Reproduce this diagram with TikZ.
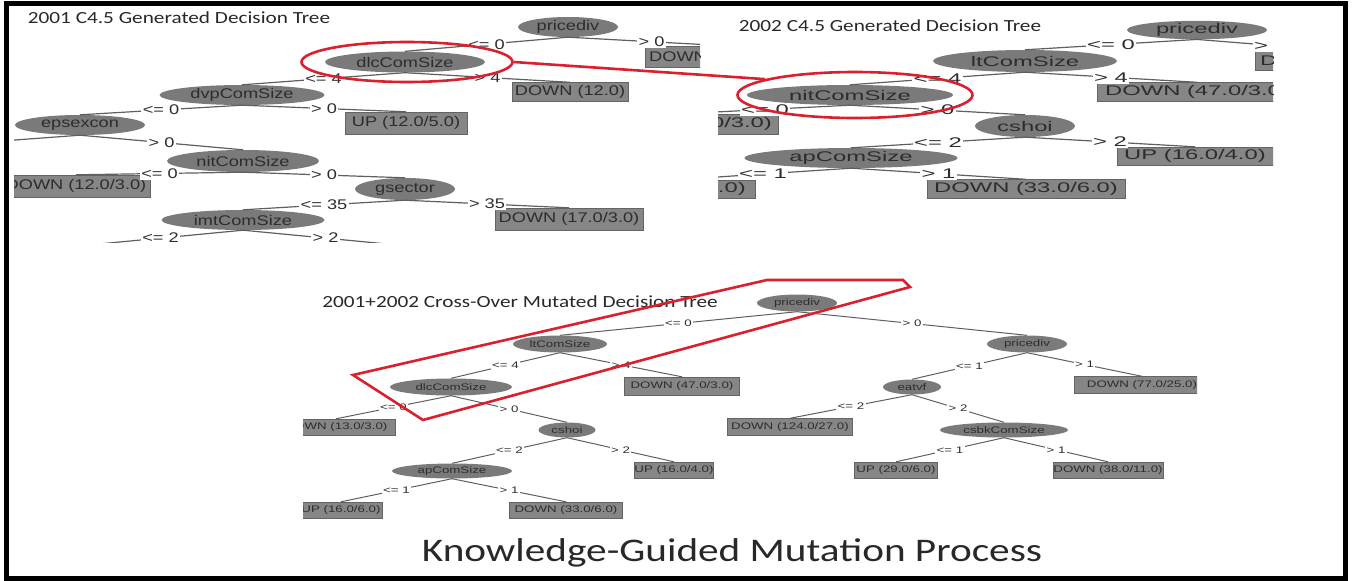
\documentclass[tikz,border=0pt]{standalone}
\usepackage{fontspec}
\usepackage{tikz}
\usetikzlibrary{shapes.geometric}
\newfontfamily\capfam[FakeStretch=1.25]{Carlito}
\newfontfamily\wekaAfam[FakeStretch=1.3]{Liberation Sans}
\newfontfamily\wekaBfam[FakeStretch=1.7]{Liberation Sans}
\newfontfamily\wekaCfam[FakeStretch=1.4]{Liberation Sans}
\newcommand\treeAfont{\wekaAfam\fontsize{14}{14}\selectfont}
\newcommand\treeBfont{\wekaBfam\fontsize{14}{14}\selectfont}
\newcommand\treeCfont{\wekaCfam\fontsize{9.5}{9.5}\selectfont}
\newcommand\titlefont{\capfam\fontsize{17}{17}\selectfont}
\newcommand\bigcapfont{\capfam\fontsize{33}{33}\selectfont}
\definecolor{ovalgray}{RGB}{122,122,122}
\definecolor{leafgray}{RGB}{134,134,134}
\definecolor{leafedge}{RGB}{100,100,100}
\definecolor{inkgray}{RGB}{45,45,45}
\definecolor{wiregray}{RGB}{95,95,95}
\definecolor{headgray}{RGB}{40,40,40}
\definecolor{markred}{RGB}{218,32,45}

\begin{document}
\begin{tikzpicture}[
  x=1pt, y=-1pt,
  oval/.style={ellipse, fill=ovalgray, text=inkgray, inner sep=0pt},
  leaf/.style={rectangle, fill=leafgray, draw=leafedge, text=inkgray, inner sep=0pt},
  cond/.style={fill=white, text=inkgray, inner sep=1.5pt},
  branch/.style={draw=wiregray, line width=1.2pt},
  redmark/.style={draw=markred, line width=2.6pt},
  heading/.style={text=headgray, font=\titlefont, inner sep=0pt}
]
  \useasboundingbox (0,0) rectangle (1353,581);

  \begin{scope}[every node/.append style={font=\treeAfont}]
    \clip (14,6) rectangle (700,242);
    \node[heading] (t1title) at (179,18) {2001 C4.5 Generated Decision Tree};
    \node[oval, minimum width=100, minimum height=20] (t1root) at (568,27) {pricediv};
    \node[oval, minimum width=160, minimum height=21] (t1dlc) at (405,62) {dlcComSize};
    \node[leaf, anchor=west, minimum height=21, text width=172, align=left, inner xsep=4pt] (t1dow) at (645,57) {DOWN};
    \node[leaf, minimum width=116, minimum height=19] (t1down) at (570,92) {DOWN (12.0)};
    \node[oval, minimum width=165, minimum height=20] (t1dvp) at (242,95) {dvpComSize};
    \node[leaf, minimum width=122, minimum height=22] (t1up) at (406,123) {UP (12.0/5.0)};
    \node[oval, minimum width=130, minimum height=20] (t1eps) at (80,125) {epsexcon};
    \coordinate (t1epsL) at (-120,150);
    \node[oval, minimum width=152, minimum height=22] (t1nit) at (243,161) {nitComSize};
    \node[leaf, minimum width=149, minimum height=22] (t1downB) at (76,186) {DOWN (12.0/3.0)};
    \node[oval, minimum width=100, minimum height=22] (t1gsec) at (405,189) {gsector};
    \node[leaf, minimum width=148, minimum height=22] (t1downC) at (569,219) {DOWN (17.0/3.0)};
    \node[oval, minimum width=163, minimum height=20] (t1imt) at (243,220) {imtComSize};
    \coordinate (t1imtL) at (78,246);
    \coordinate (t1imtR) at (408,246);

    \draw[branch] (t1root.south) -- node[cond]{<= 0} (t1dlc.north);
    \draw[branch] (t1root.south) -- node[cond]{> 0} (t1dow.north);
    \draw[branch] (t1dlc.south) -- node[cond]{<= 4} (t1dvp.north);
    \draw[branch] (t1dlc.south) -- node[cond]{> 4} (t1down.north);
    \draw[branch] (t1dvp.south) -- node[cond]{<= 0} (t1eps.north);
    \draw[branch] (t1dvp.south) -- node[cond]{> 0} (t1up.north);
    \draw[branch] (t1eps.south) -- (t1epsL);
    \draw[branch] (t1eps.south) -- node[cond]{> 0} (t1nit.north);
    \draw[branch] (t1nit.south) -- node[cond]{<= 0} (t1downB.north);
    \draw[branch] (t1nit.south) -- node[cond]{> 0} (t1gsec.north);
    \draw[branch] (t1gsec.south) -- node[cond]{<= 35} (t1imt.north);
    \draw[branch] (t1gsec.south) -- node[cond]{> 35} (t1downC.north);
    \draw[branch] (t1imt.south) -- node[cond]{<= 2} (t1imtL);
    \draw[branch] (t1imt.south) -- node[cond]{> 2} (t1imtR);
  \end{scope}

  \begin{scope}[every node/.append style={font=\treeBfont}]
    \clip (718,6) rectangle (1273,200);
    \node[heading] (t2title) at (890,26) {2002 C4.5 Generated Decision Tree};
    \node[oval, minimum width=140, minimum height=18] (t2root) at (1197,30) {pricediv};
    \node[leaf, anchor=west, minimum height=19, text width=170, align=left, inner xsep=5pt] (t2dow) at (1255,61) {DOWN};
    \node[oval, minimum width=184, minimum height=22] (t2lt) at (1025,61) {ltComSize};
    \node[leaf, minimum width=200, minimum height=19] (t2down) at (1197,92) {DOWN (47.0/3.0)};
    \node[oval, minimum width=206, minimum height=20] (t2nit) at (850,95) {nitComSize};
    \node[leaf, minimum width=196, minimum height=20] (t2downB) at (680,124) {DOWN (12.0/3.0)};
    \node[oval, minimum width=100, minimum height=22] (t2csh) at (1025,126) {cshoi};
    \node[leaf, minimum width=156, minimum height=18] (t2up) at (1195,156) {UP (16.0/4.0)};
    \node[oval, minimum width=213, minimum height=20] (t2ap) at (851,158) {apComSize};
    \node[leaf, minimum width=160, minimum height=18] (t2upB) at (675,189) {UP (16.0/6.0)};
    \node[leaf, minimum width=198, minimum height=19] (t2downC) at (1026,189) {DOWN (33.0/6.0)};

    \draw[branch] (t2root.south) -- node[cond]{<= 0} (t2lt.north);
    \draw[branch] (t2root.south) -- node[cond]{> 0} (t2dow.north);
    \draw[branch] (t2lt.south) -- node[cond]{<= 4} (t2nit.north);
    \draw[branch] (t2lt.south) -- node[cond]{> 4} (t2down.north);
    \draw[branch] (t2nit.south) -- node[cond]{<= 0} (t2downB.north);
    \draw[branch] (t2nit.south) -- node[cond]{> 0} (t2csh.north);
    \draw[branch] (t2csh.south) -- node[cond]{<= 2} (t2ap.north);
    \draw[branch] (t2csh.south) -- node[cond]{> 2} (t2up.north);
    \draw[branch] (t2ap.south) -- node[cond]{<= 1} (t2upB.north);
    \draw[branch] (t2ap.south) -- node[cond]{> 1} (t2downC.north);
  \end{scope}

  \begin{scope}[every node/.append style={font=\treeCfont}, branch/.append style={line width=1pt}]
    \clip (303,280) rectangle (1197,525);
    \node[heading] (t3title) at (520,302) {2001+2002 Cross-Over Mutated Decision Tree};
    \node[oval, minimum width=80, minimum height=17] (t3root) at (797,303) {pricediv};
    \node[oval, minimum width=94, minimum height=17] (t3lt) at (560,344) {ltComSize};
    \node[oval, minimum width=122, minimum height=17] (t3dlc) at (451,387) {dlcComSize};
    \node[leaf, minimum width=115, minimum height=18] (t3down) at (682,386) {DOWN (47.0/3.0)};
    \node[leaf, minimum width=118, minimum height=16] (t3downB) at (336,427) {DOWN (13.0/3.0)};
    \node[oval, minimum width=57, minimum height=15] (t3csh) at (567,430) {cshoi};
    \node[oval, minimum width=120, minimum height=15] (t3ap) at (452,471) {apComSize};
    \node[leaf, minimum width=78, minimum height=16] (t3up) at (674,470) {UP (16.0/4.0)};
    \node[leaf, minimum width=82, minimum height=16] (t3upB) at (341,510) {UP (16.0/6.0)};
    \node[leaf, minimum width=113, minimum height=16] (t3downC) at (566,510) {DOWN (33.0/6.0)};
    \node[oval, minimum width=80, minimum height=17] (t3pd) at (1027,344) {pricediv};
    \node[leaf, minimum width=135, minimum height=17] (t3downD) at (1142,385) {DOWN (77.0/25.0)};
    \node[oval, minimum width=58, minimum height=15] (t3eat) at (912,387) {eatvf};
    \node[leaf, minimum width=125, minimum height=17] (t3downE) at (790,427) {DOWN (124.0/27.0)};
    \node[oval, minimum width=128, minimum height=15] (t3csb) at (1004,430) {csbkComSize};
    \node[leaf, minimum width=83, minimum height=16] (t3upC) at (896,470) {UP (29.0/6.0)};
    \node[leaf, minimum width=110, minimum height=16] (t3downF) at (1108,470) {DOWN (38.0/11.0)};

    \draw[branch] (t3root.south) -- node[cond]{<= 0} (t3lt.north);
    \draw[branch] (t3root.south) -- node[cond]{> 0} (t3pd.north);
    \draw[branch] (t3lt.south) -- node[cond]{<= 4} (t3dlc.north);
    \draw[branch] (t3lt.south) -- node[cond]{> 4} (t3down.north);
    \draw[branch] (t3dlc.south) -- node[cond]{<= 0} (t3downB.north);
    \draw[branch] (t3dlc.south) -- node[cond]{> 0} (t3csh.north);
    \draw[branch] (t3csh.south) -- node[cond]{<= 2} (t3ap.north);
    \draw[branch] (t3csh.south) -- node[cond]{> 2} (t3up.north);
    \draw[branch] (t3ap.south) -- node[cond]{<= 1} (t3upB.north);
    \draw[branch] (t3ap.south) -- node[cond]{> 1} (t3downC.north);
    \draw[branch] (t3pd.south) -- node[cond]{<= 1} (t3eat.north);
    \draw[branch] (t3pd.south) -- node[cond]{> 1} (t3downD.north);
    \draw[branch] (t3eat.south) -- node[cond]{<= 2} (t3downE.north);
    \draw[branch] (t3eat.south) -- node[cond]{> 2} (t3csb.north);
    \draw[branch] (t3csb.south) -- node[cond]{<= 1} (t3upC.north);
    \draw[branch] (t3csb.south) -- node[cond]{> 1} (t3downF.north);
  \end{scope}

  \node[redmark, ellipse, minimum width=211, minimum height=40, inner sep=0pt] (ringA) at (407,62) {};
  \node[redmark, ellipse, minimum width=235, minimum height=46, inner sep=0pt] (ringB) at (855,95) {};
  \draw[redmark] (ringA.east) -- (ringB.170);
  \draw[redmark, line join=miter] (353,375) -- (767,280) -- (903,280) -- (910,287) -- (423,420) -- cycle;

  \node[text=headgray, font=\bigcapfont, inner sep=0pt] (caption) at (732,553) {Knowledge-Guided Mutation Process};

  \draw[line width=5pt] (6,3) rectangle (1345,578);
\end{tikzpicture}
\end{document}
